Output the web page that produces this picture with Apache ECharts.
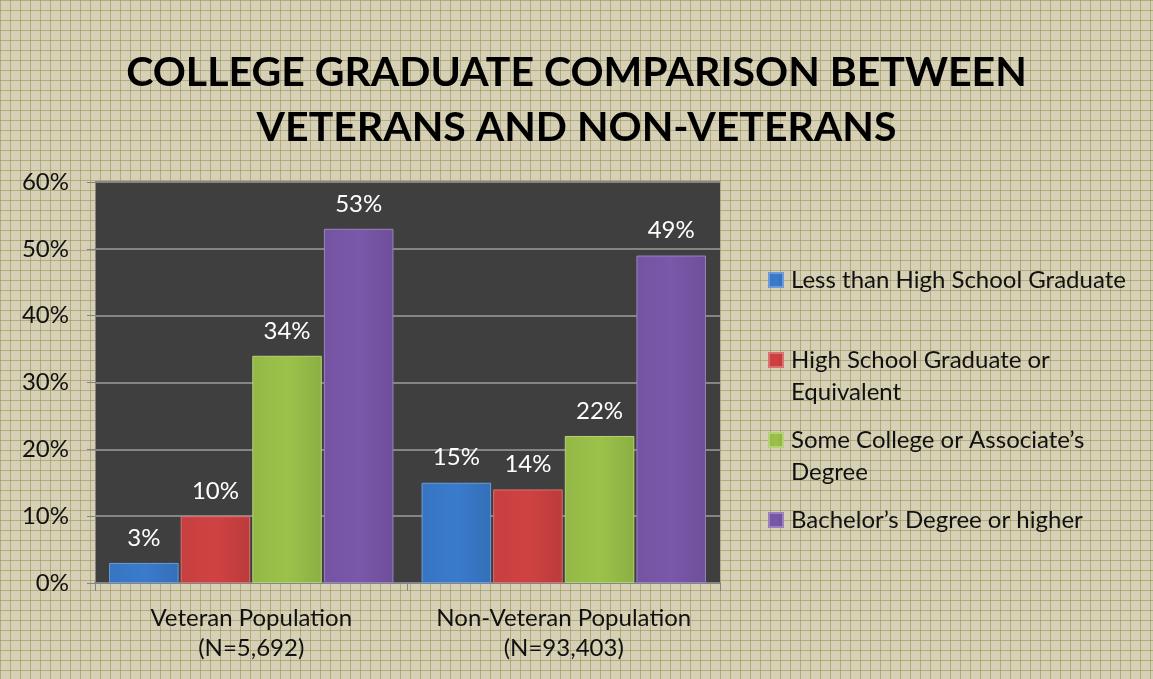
<!DOCTYPE html>
<html>
<head>
<meta charset="utf-8">
<script src="https://cdn.jsdelivr.net/npm/echarts@6/dist/echarts.min.js"></script>
<style>
html,body{margin:0;padding:0;}
#chart{
  width:1153px;height:679px;
  background-color:#d6d1b6;
  background-image:
    repeating-linear-gradient(to right, rgba(150,140,80,0.55) 0px, rgba(150,140,80,0.55) 1px, transparent 1px, transparent 10px),
    repeating-linear-gradient(to bottom, rgba(150,140,80,0.55) 0px, rgba(150,140,80,0.55) 1px, transparent 1px, transparent 10px);
}
</style>
</head>
<body>
<div id="chart"></div>
<script>
var titleLines = ['COLLEGE GRADUATE COMPARISON BETWEEN', 'VETERANS AND NON-VETERANS'];
var categories = ['Veteran Population\n(N=5,692)', 'Non-Veteran Population\n(N=93,403)'];
var seriesNames = ['Less than High School Graduate', 'High School Graduate or\nEquivalent', 'Some College or Associate\u2019s\nDegree', 'Bachelor\u2019s Degree or higher'];
var lessThanHS = [3, 15];
var hsGrad = [10, 14];
var someCollege = [34, 22];
var bachelors = [53, 49];
var yTicks = [0, 10, 20, 30, 40, 50, 60];
var colors = ['#3a7bcc', '#d04242', '#9cc24a', '#7a58aa'];

var values = [lessThanHS, hsGrad, someCollege, bachelors];
var FONT = 'Lato, "Open Sans", sans-serif';

function lighten(hex, f) {
  var n = parseInt(hex.slice(1), 16);
  var r = (n >> 16) & 255, g = (n >> 8) & 255, b = n & 255;
  r = Math.round(r + (255 - r) * f); g = Math.round(g + (255 - g) * f); b = Math.round(b + (255 - b) * f);
  return 'rgb(' + r + ',' + g + ',' + b + ')';
}
function darken(hex, f) {
  var n = parseInt(hex.slice(1), 16);
  var r = (n >> 16) & 255, g = (n >> 8) & 255, b = n & 255;
  return 'rgb(' + Math.round(r * (1 - f)) + ',' + Math.round(g * (1 - f)) + ',' + Math.round(b * (1 - f)) + ')';
}

var series = values.map(function (v, i) {
  return {
    name: seriesNames[i],
    type: 'bar',
    data: v,
    barGap: '3%',
    barCategoryGap: '9%',
    itemStyle: {
      color: {
        type: 'linear', x: 0, y: 0, x2: 1, y2: 0,
        colorStops: [
          {offset: 0, color: darken(colors[i], 0.05)},
          {offset: 0.5, color: colors[i]},
          {offset: 1, color: darken(colors[i], 0.1)}
        ]
      },
      borderColor: lighten(colors[i], 0.25),
      borderWidth: 1
    },
    label: {
      show: true,
      position: 'top',
      distance: 13,
      color: '#ffffff',
      fontFamily: FONT,
      fontSize: 24,
      formatter: '{c}%'
    }
  };
});

var legendTops = [264, 312, 392, 504];
var legendLead = [false, true, true, false];
var legends = seriesNames.map(function (n, i) {
  return {
    data: [n],
    orient: 'vertical',
    left: 768,
    top: legendTops[i],
    padding: 0,
    itemWidth: 14,
    itemHeight: 14,
    itemGap: 0,
    icon: 'rect',
    selectedMode: false,
    formatter: function (name) { return legendLead[i] ? '\n' + name : name; },
    textStyle: {
      fontFamily: FONT,
      fontSize: 24,
      color: '#111111',
      lineHeight: 32,
      padding: [0, 0, 0, 3]
    }
  };
});

var chart = echarts.init(document.getElementById('chart'), null, {renderer: 'canvas'});
chart.setOption({
  backgroundColor: 'transparent',
  color: colors,
  title: {
    text: titleLines.join('\n'),
    left: 'center',
    top: 40,
    textStyle: {
      fontFamily: FONT,
      fontWeight: 'bold',
      fontSize: 41,
      lineHeight: 55,
      color: '#000000'
    }
  },
  legend: legends,
  grid: {
    left: 95,
    top: 182,
    width: 625,
    height: 401,
    show: true,
    backgroundColor: '#3f3f3f',
    borderWidth: 0
  },
  xAxis: {
    type: 'category',
    data: categories,
    axisLine: {show: true, lineStyle: {color: '#858585', width: 2}},
    axisTick: {show: true, length: 8, lineStyle: {color: '#858585'}},
    axisLabel: {
      interval: 0,
      hideOverlap: false,
      fontFamily: FONT,
      fontSize: 24,
      color: '#111111',
      lineHeight: 30,
      margin: 20
    }
  },
  yAxis: {
    type: 'value',
    min: yTicks[0],
    max: yTicks[yTicks.length - 1],
    interval: 10,
    axisLine: {show: true, lineStyle: {color: '#858585'}},
    axisTick: {show: true, length: 8, lineStyle: {color: '#858585'}},
    splitLine: {show: true, lineStyle: {color: '#858585', width: 2}},
    axisLabel: {
      fontFamily: FONT,
      fontSize: 24,
      color: '#111111',
      margin: 26,
      formatter: '{value}%'
    }
  },
  series: series
});
</script>
</body>
</html>
